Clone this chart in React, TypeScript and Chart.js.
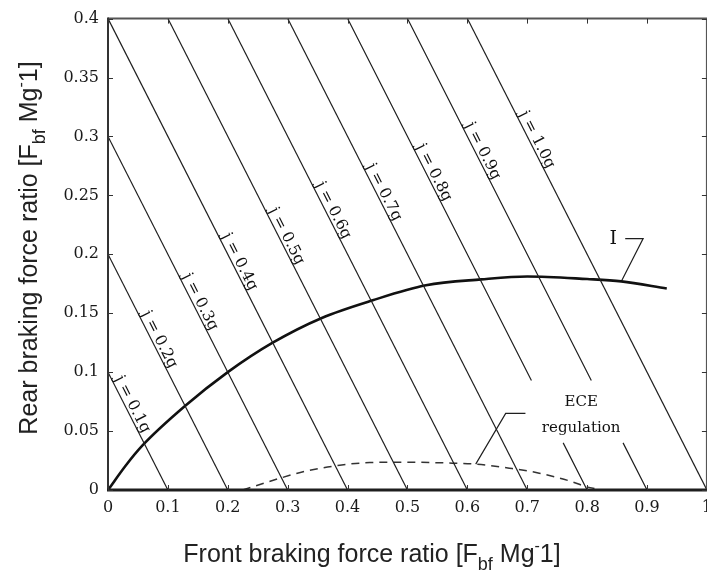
import React, { useEffect, useRef } from "react";
import { Chart, registerables } from "chart.js";

Chart.register(...registerables);

// ---- Data ----
const xTickLabels = ["0", "0.1", "0.2", "0.3", "0.4", "0.5", "0.6", "0.7", "0.8", "0.9", "1"];
const yTickLabels = ["0", "0.05", "0.1", "0.15", "0.2", "0.25", "0.3", "0.35", "0.4"];

// constant-deceleration lines j = k·g (x + y = k)
const jLabels = ["j = 0.1g", "j = 0.2g", "j = 0.3g", "j = 0.4g", "j = 0.5g", "j = 0.6g", "j = 0.7g", "j = 0.8g", "j = 0.9g", "j = 1.0g"];
const jStartX = [0, 0, 0, 0, 0.1, 0.2, 0.3, 0.4, 0.5, 0.6];
const jStartY = [0.1, 0.2, 0.3, 0.4, 0.4, 0.4, 0.4, 0.4, 0.4, 0.4];
const jEndX = [0.1, 0.2, 0.3, 0.4, 0.5, 0.6, 0.7, 0.8, 0.9, 1.0];
const jEndY = [0, 0, 0, 0, 0, 0, 0, 0, 0, 0];
// break in the line (around the "ECE regulation" text)
const jGapTopY: (number | null)[] = [null, null, null, null, null, null, null, 0.093, 0.093, null];
const jGapBottomY: (number | null)[] = [null, null, null, null, null, null, null, 0.04, 0.04, null];
// y value on each line where its label sits
const jLabelY = [0.07, 0.125, 0.157, 0.191, 0.2127, 0.2346, 0.25, 0.2667, 0.285, 0.2945];

// ideal braking force distribution curve "I"
const iCurveX = [0, 0.03, 0.058, 0.128, 0.2, 0.275, 0.357, 0.442, 0.531, 0.623, 0.7, 0.8, 0.857, 0.933];
const iCurveY = [0, 0.021, 0.038, 0.071, 0.1, 0.125, 0.146, 0.161, 0.1737, 0.1787, 0.1812, 0.179, 0.177, 0.171];

// ECE regulation limit (dashed)
const eceX = [0.225, 0.287, 0.33, 0.387, 0.437, 0.49, 0.575, 0.615, 0.67, 0.72, 0.775, 0.798, 0.825];
const eceY = [0, 0.01, 0.016, 0.021, 0.0233, 0.0236, 0.0228, 0.022, 0.0185, 0.0143, 0.007, 0.0028, 0];

// leader lines for annotations
const iLeaderX = [0.8636, 0.8935, 0.857];
const iLeaderY = [0.2133, 0.2133, 0.177];
const eceLeaderX = [0.697, 0.664, 0.614];
const eceLeaderY = [0.065, 0.065, 0.022];

const iText = { label: "I", x: 0.8436, y: 0.2133 };
const eceText = { lines: ["ECE", "regulation"], x: 0.79, y: [0.0742, 0.0523] };

const xTitle = [
  { t: "Front braking force ratio [F", s: 25, dy: 0 },
  { t: "bf", s: 18, dy: 8 },
  { t: " Mg", s: 25, dy: 0 },
  { t: "-", s: 16, dy: -11 },
  { t: "1]", s: 25, dy: 0 },
];
const yTitle = [
  { t: "Rear braking force ratio [F", s: 25, dy: 0 },
  { t: "bf", s: 18, dy: 8 },
  { t: " Mg", s: 25, dy: 0 },
  { t: "-", s: 16, dy: -11 },
  { t: "1]", s: 25, dy: 0 },
];

const INK = "#1f1f1f";
const SERIF = '"DejaVu Serif"';
const SANS = '"Liberation Sans"';

function zip(xs: number[], ys: number[]) {
  return xs.map((x, i) => ({ x, y: ys[i] }));
}

function drawRich(ctx: CanvasRenderingContext2D, segs: { t: string; s: number; dy: number }[], cx: number, cy: number, rotate: boolean) {
  ctx.save();
  ctx.translate(cx, cy);
  if (rotate) ctx.rotate(-Math.PI / 2);
  ctx.fillStyle = "#222";
  ctx.textAlign = "left";
  ctx.textBaseline = "alphabetic";
  let total = 0;
  const widths: number[] = [];
  for (const sg of segs) {
    ctx.font = `${sg.s}px ${SANS}`;
    const w = ctx.measureText(sg.t).width;
    widths.push(w);
    total += w;
  }
  let x = -total / 2;
  segs.forEach((sg, i) => {
    ctx.font = `${sg.s}px ${SANS}`;
    ctx.fillText(sg.t, x, 9 + sg.dy);
    x += widths[i];
  });
  ctx.restore();
}

const decorPlugin = {
  id: "decor",
  afterDatasetsDraw(chart: any) {
    const ctx: CanvasRenderingContext2D = chart.ctx;
    const xs = chart.scales.x;
    const ys = chart.scales.y;
    const { left, right, top, bottom } = chart.chartArea;
    ctx.save();
    // frame
    ctx.strokeStyle = "#555";
    ctx.lineWidth = 2;
    ctx.beginPath();
    ctx.moveTo(left, top);
    ctx.lineTo(right, top);
    ctx.lineTo(right, bottom);
    ctx.stroke();
    ctx.strokeStyle = "#333";
    ctx.beginPath();
    ctx.moveTo(left, top - 1);
    ctx.lineTo(left, bottom);
    ctx.stroke();
    ctx.strokeStyle = "#1e1e1e";
    ctx.lineWidth = 3;
    ctx.beginPath();
    ctx.moveTo(left - 1, bottom);
    ctx.lineTo(right, bottom);
    ctx.stroke();
    // inward tick marks
    ctx.strokeStyle = "#333";
    ctx.lineWidth = 1;
    const tl = 5;
    ctx.beginPath();
    xs.ticks.forEach((t: any) => {
      const px = Math.round(xs.getPixelForValue(t.value)) + 0.5;
      ctx.moveTo(px, bottom);
      ctx.lineTo(px, bottom - tl);
      ctx.moveTo(px, top);
      ctx.lineTo(px, top + tl);
    });
    ys.ticks.forEach((t: any) => {
      const py = Math.round(ys.getPixelForValue(t.value)) + 0.5;
      ctx.moveTo(left, py);
      ctx.lineTo(left + tl, py);
      ctx.moveTo(right, py);
      ctx.lineTo(right - tl, py);
    });
    ctx.stroke();

    // labels along j lines
    ctx.fillStyle = "#111";
    ctx.font = `15.5px ${SERIF}`;
    ctx.textAlign = "center";
    ctx.textBaseline = "alphabetic";
    jLabels.forEach((lab, i) => {
      const y = jLabelY[i];
      const k = jEndX[i];
      const x = k - y;
      const px = xs.getPixelForValue(x);
      const py = ys.getPixelForValue(y);
      const ax = xs.getPixelForValue(jEndX[i]) - xs.getPixelForValue(jStartX[i]);
      const ay = ys.getPixelForValue(jEndY[i]) - ys.getPixelForValue(jStartY[i]);
      const ang = Math.atan2(ay, ax);
      ctx.save();
      ctx.translate(px, py);
      ctx.rotate(ang);
      ctx.fillText(lab, 0, -3);
      ctx.restore();
    });

    // I label
    ctx.font = `19px ${SERIF}`;
    ctx.textBaseline = "middle";
    ctx.fillText(iText.label, xs.getPixelForValue(iText.x), ys.getPixelForValue(iText.y));

    // ECE label
    ctx.font = `15px ${SERIF}`;
    eceText.lines.forEach((l, i) => {
      ctx.fillText(l, xs.getPixelForValue(eceText.x), ys.getPixelForValue(eceText.y[i]));
    });
    ctx.restore();

    drawRich(ctx, xTitle, 372, 553, false);
    drawRich(ctx, yTitle, 28, 248, true);
  },
};

export default function App() {
  const ref = useRef<HTMLCanvasElement | null>(null);
  useEffect(() => {
    const canvas = ref.current!;
    const jSets = jLabels.map((lab, i) => {
      const pts: any[] = [{ x: jStartX[i], y: jStartY[i] }];
      const gt = jGapTopY[i];
      const gb = jGapBottomY[i];
      if (gt !== null && gb !== null) {
        pts.push({ x: jEndX[i] - gt, y: gt });
        pts.push({ x: jEndX[i] - (gt + gb) / 2, y: null });
        pts.push({ x: jEndX[i] - gb, y: gb });
      }
      pts.push({ x: jEndX[i], y: jEndY[i] });
      return {
        label: lab,
        data: pts,
        borderColor: INK,
        borderWidth: 1.2,
        pointRadius: 0,
        spanGaps: false,
        tension: 0,
      };
    });
    const chart = new Chart(canvas, {
      type: "line",
      data: {
        datasets: [
          ...jSets,
          {
            label: "I",
            data: zip(iCurveX, iCurveY),
            borderColor: "#111",
            borderWidth: 2.6,
            pointRadius: 0,
            cubicInterpolationMode: "monotone",
          },
          {
            label: "ECE regulation",
            data: zip(eceX, eceY),
            borderColor: "#333",
            borderWidth: 1.5,
            borderDash: [8, 6],
            pointRadius: 0,
            cubicInterpolationMode: "monotone",
          },
          {
            label: "I leader",
            data: zip(iLeaderX, iLeaderY),
            borderColor: INK,
            borderWidth: 1.2,
            pointRadius: 0,
          },
          {
            label: "ECE leader",
            data: zip(eceLeaderX, eceLeaderY),
            borderColor: INK,
            borderWidth: 1.2,
            pointRadius: 0,
          },
        ] as any,
      },
      options: {
        animation: false,
        responsive: false,
        devicePixelRatio: 1,
        layout: { padding: { left: 0, top: 16, right: 11, bottom: 0 } },
        plugins: {
          legend: { display: false },
          tooltip: { enabled: false },
        },
        scales: {
          x: {
            type: "linear",
            min: 0,
            max: 1,
            grid: { display: false, drawTicks: false },
            border: { display: false },
            ticks: {
              stepSize: 0.1,
              padding: 8,
              color: "#1a1a1a",
              font: { family: "DejaVu Serif", size: 16 },
              callback: (_v: any, i: number) => xTickLabels[i],
            },
            afterFit: (s: any) => {
              s.height = 87;
            },
          },
          y: {
            type: "linear",
            min: 0,
            max: 0.4,
            grid: { display: false, drawTicks: false },
            border: { display: false },
            ticks: {
              stepSize: 0.05,
              padding: 9,
              color: "#1a1a1a",
              font: { family: "DejaVu Serif", size: 16 },
              callback: (_v: any, i: number) => yTickLabels[i],
            },
            afterFit: (s: any) => {
              s.width = 108;
            },
          },
        },
      } as any,
      plugins: [decorPlugin],
    });
    return () => chart.destroy();
  }, []);
  return (
    <div style={{ position: "absolute", left: 0, top: 0, width: 707, height: 577, overflow: "hidden", background: "#fff" }}>
      <canvas ref={ref} width={720} height={577} style={{ width: 720, height: 577, display: "block" }} />
    </div>
  );
}
